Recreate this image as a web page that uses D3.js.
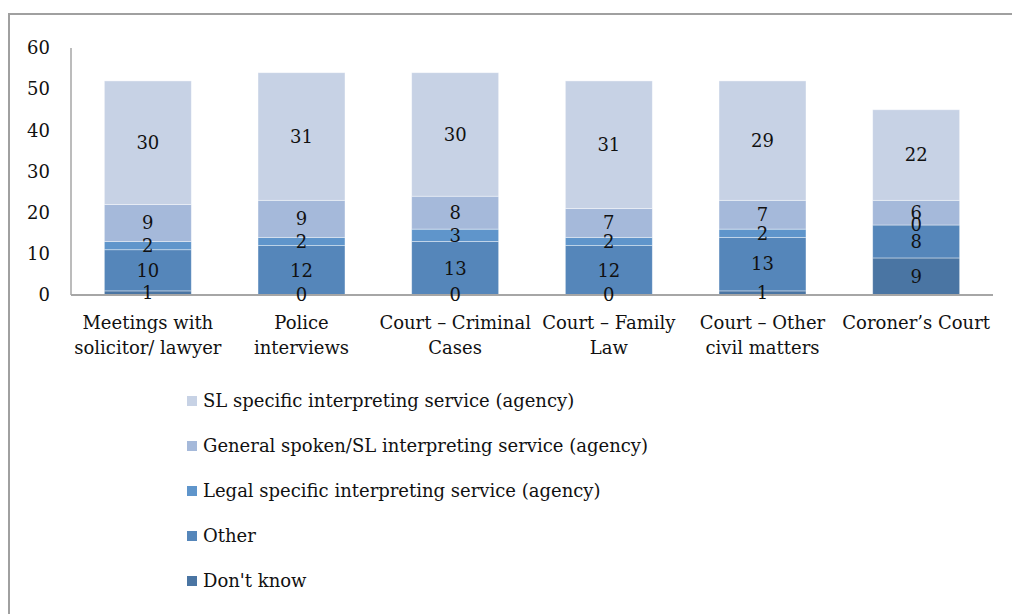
<!DOCTYPE html>
<html>
<head>
<meta charset="utf-8">
<script src="https://cdn.jsdelivr.net/npm/d3@7"></script>
<style>
  body { margin: 0; background: #fff; }
  svg { font-family: "DejaVu Serif", serif; }
</style>
</head>
<body>
<svg width="1012" height="614"></svg>
<script>
// categories (two label lines each)
const categories = [
    ['Meetings with', 'solicitor/ lawyer'],
    ['Police', 'interviews'],
    ['Court \u2013 Criminal', 'Cases'],
    ['Court \u2013 Family', 'Law'],
    ['Court \u2013 Other', 'civil matters'],
    ['Coroner\u2019s Court']
];
const seriesNames = [
    "Don't know",
    'Other',
    'Legal specific interpreting service (agency)',
    'General spoken/SL interpreting service (agency)',
    'SL specific interpreting service (agency)'
];
const dontKnow = [1, 0, 0, 0, 1, 9];
const other = [10, 12, 13, 12, 13, 8];
const legal = [2, 2, 3, 2, 2, 0];
const general = [9, 9, 8, 7, 7, 6];
const slSpecific = [30, 31, 30, 31, 29, 22];
const yTicks = [0, 10, 20, 30, 40, 50, 60];

const colors = ['#4a75a3', '#5586ba', '#5f95cb', '#a5b9da', '#c7d2e5'];
const seriesValues = [dontKnow, other, legal, general, slSpecific];
const FS = 18;

const svg = d3.select('svg');

// outer frame
svg.append('rect')
    .attr('x', 9).attr('y', 14)
    .attr('width', 1020).attr('height', 620)
    .attr('fill', 'none')
    .attr('stroke', '#a0a0a0')
    .attr('stroke-width', 2);

const keys = categories.map(c => c.join(' '));
const table = keys.map((k, i) => {
    const row = { key: k };
    seriesNames.forEach((s, j) => { row[s] = seriesValues[j][i]; });
    return row;
});
const stack = d3.stack().keys(seriesNames)(table);

const x = d3.scaleBand()
    .domain(keys)
    .range([71, 993])
    .paddingInner(0.434)
    .paddingOuter(0.217);

const y = d3.scaleLinear()
    .domain([0, 60])
    .range([295, 48]);

// bars
const layers = svg.append('g').selectAll('g')
    .data(stack)
    .enter()
    .append('g')
    .attr('fill', (d, i) => colors[i]);

layers.selectAll('rect')
    .data(d => d)
    .enter()
    .append('rect')
    .attr('x', d => x(d.data.key))
    .attr('width', x.bandwidth())
    .attr('y', d => y(d[1]))
    .attr('height', d => y(d[0]) - y(d[1]))
    .attr('stroke', 'rgba(255,255,255,0.5)')
    .attr('stroke-width', 0.8);

// axes
svg.append('line')
    .attr('x1', 71).attr('x2', 71)
    .attr('y1', 48).attr('y2', 295)
    .attr('stroke', '#a6a6a6').attr('stroke-width', 1.5);
svg.append('line')
    .attr('x1', 71).attr('x2', 993)
    .attr('y1', 295).attr('y2', 295)
    .attr('stroke', '#a6a6a6').attr('stroke-width', 2);

svg.append('g').selectAll('text')
    .data(yTicks)
    .enter()
    .append('text')
    .attr('x', 50)
    .attr('y', d => y(d))
    .attr('dy', '0.35em')
    .attr('text-anchor', 'end')
    .attr('font-size', FS)
    .attr('fill', '#111')
    .text(d => d);

// data labels, drawn over all bars
svg.append('g').selectAll('g')
    .data(stack)
    .enter()
    .append('g')
    .selectAll('text')
    .data(d => d)
    .enter()
    .append('text')
    .attr('x', d => x(d.data.key) + x.bandwidth() / 2)
    .attr('y', d => y((d[0] + d[1]) / 2))
    .attr('dy', '0.35em')
    .attr('text-anchor', 'middle')
    .attr('font-size', FS)
    .attr('fill', '#111')
    .text(d => d[1] - d[0]);

// category labels
const catLabels = svg.append('g').selectAll('text')
    .data(categories)
    .enter()
    .append('text')
    .attr('x', (d, i) => x(keys[i]) + x.bandwidth() / 2)
    .attr('y', 323)
    .attr('text-anchor', 'middle')
    .attr('font-size', FS)
    .attr('fill', '#111');
catLabels.selectAll('tspan')
    .data(d => d)
    .enter()
    .append('tspan')
    .attr('x', function() { return d3.select(this.parentNode).attr('x'); })
    .attr('dy', (d, i) => i === 0 ? '0.35em' : 25)
    .text(d => d);

// legend (top series first)
const legendOrder = [4, 3, 2, 1, 0];
const legend = svg.append('g').selectAll('g')
    .data(legendOrder)
    .enter()
    .append('g')
    .attr('transform', (d, i) => `translate(187,${401 + i * 45})`);
legend.append('rect')
    .attr('x', 0).attr('y', -5)
    .attr('width', 10).attr('height', 10)
    .attr('fill', d => colors[d]);
legend.append('text')
    .attr('x', 16)
    .attr('dy', '0.35em')
    .attr('font-size', FS)
    .attr('fill', '#111')
    .text(d => seriesNames[d]);
</script>
</body>
</html>
